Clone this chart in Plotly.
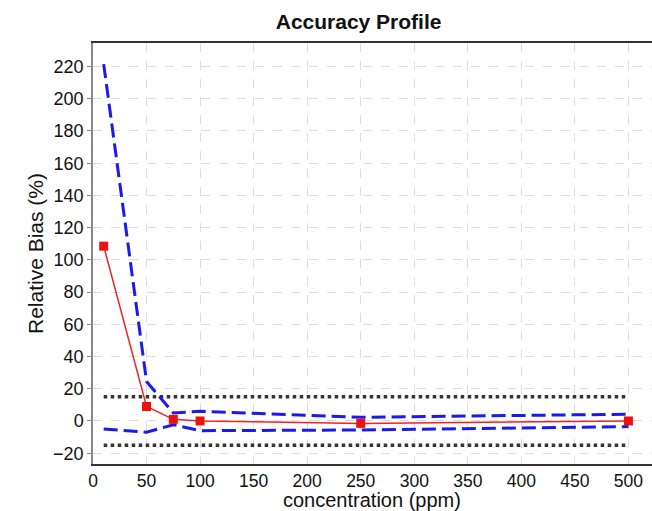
import plotly.graph_objects as go

conc = [10, 50, 75, 100, 250, 500]
bias = [108.5, 9, 1, 0, -1.5, 0]
upper_tol = [221.5, 24.5, 5, 6, 2.3, 4.2]
lower_tol = [-5, -7, -2.3, -6, -5.6, -3.5]
acc_x = [10, 500]
acc_upper = [15, 15]
acc_lower = [-15, -15]

x_ticks = [0, 50, 100, 150, 200, 250, 300, 350, 400, 450, 500]
y_ticks = [-20, 0, 20, 40, 60, 80, 100, 120, 140, 160, 180, 200, 220]

fig = go.Figure()
for yy in (acc_upper, acc_lower):
    fig.add_trace(go.Scatter(x=acc_x, y=yy, mode="lines",
                             line=dict(color="#333333", width=3.5, dash="dot"),
                             showlegend=False, hoverinfo="skip"))
for yy in (upper_tol, lower_tol):
    fig.add_trace(go.Scatter(x=conc, y=yy, mode="lines",
                             line=dict(color="#1a1aee", width=3, dash="14px,6px"),
                             showlegend=False))
fig.add_trace(go.Scatter(x=conc, y=bias, mode="lines+markers",
                         line=dict(color="#ee2222", width=1.5),
                         marker=dict(symbol="square", size=9, color="#ee1111"),
                         showlegend=False))

font = "Liberation Sans, Arial, Helvetica, sans-serif"
plot_h = 511 - 43 - 47
fig.update_layout(
    width=652, height=511,
    margin=dict(l=93, r=0, t=43, b=47),
    paper_bgcolor="white", plot_bgcolor="white",
    font=dict(family=font, color="#111111", size=18),
    title=dict(text="<b>Accuracy Profile</b>", x=0.55, xanchor="center",
               y=1 - 22 / 511, yanchor="middle",
               font=dict(size=21, family=font, color="#111111")),
    xaxis=dict(range=[0, 522], tickvals=x_ticks, showgrid=True,
               gridcolor="#dddddd", griddash="dash", gridwidth=1,
               showline=True, linecolor="#333333", linewidth=1.5, mirror=True,
               ticks="", zeroline=False, tickfont=dict(size=17.5)),
    yaxis=dict(range=[-26.7, 234.6], tickvals=y_ticks, showgrid=True,
               gridcolor="#dddddd", griddash="dash", gridwidth=1,
               showline=True, linecolor="#888888", linewidth=1.5,
               ticks="outside", ticklen=4, tickcolor="#888888", zeroline=False,
               title=dict(text="Relative Bias (%)", font=dict(size=21), standoff=4),
               tickfont=dict(size=18)),
    annotations=[dict(text="concentration (ppm)", xref="paper", yref="paper",
                      x=(372 - 93) / (652 - 93), y=-(500 - 464) / plot_h,
                      xanchor="center", yanchor="middle", showarrow=False,
                      font=dict(size=20, family=font, color="#111111"))],
)

fig.write_html("out.html")
